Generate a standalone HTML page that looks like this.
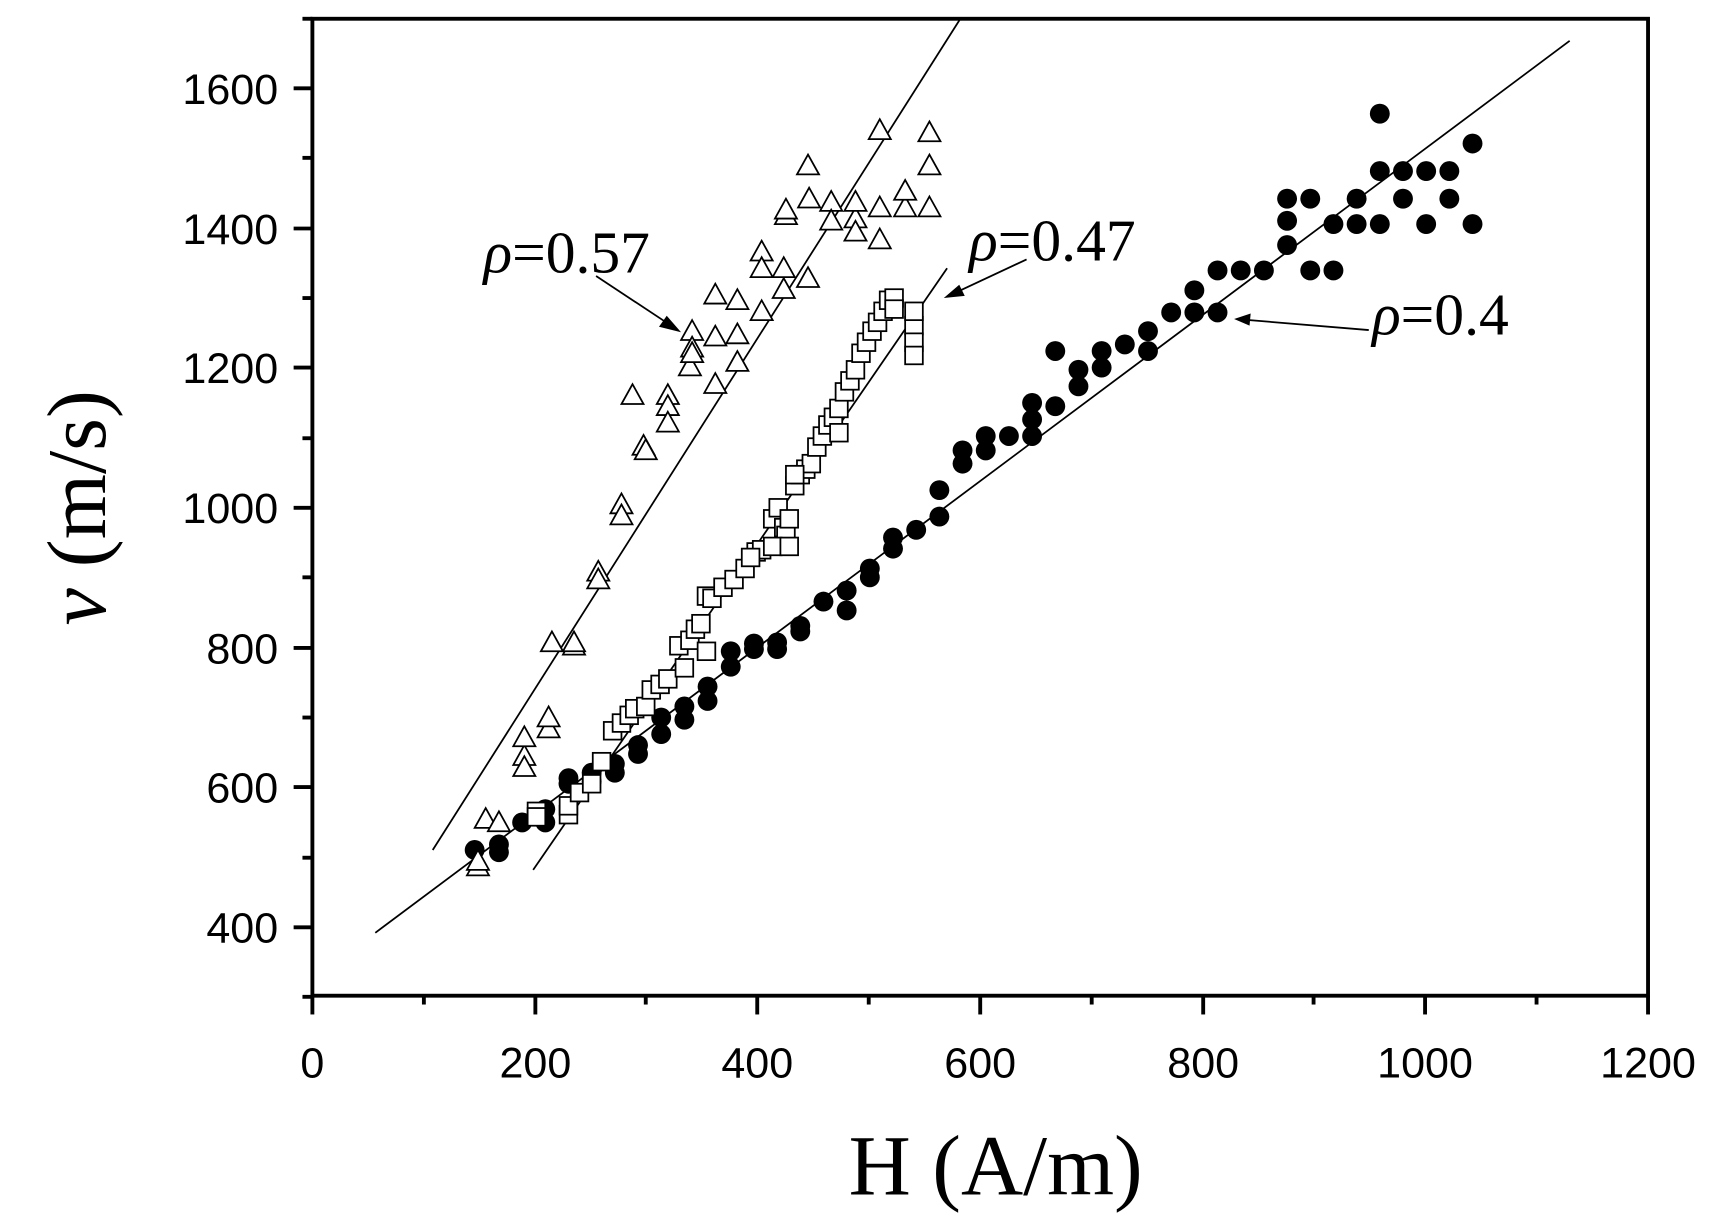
<!DOCTYPE html>
<html><head><meta charset="utf-8"><style>html,body{margin:0;padding:0;background:#fff}svg{display:block}</style></head>
<body>
<svg width="1722" height="1222" viewBox="0 0 1560 1107" preserveAspectRatio="none" xmlns="http://www.w3.org/2000/svg">
<rect x="0" y="0" width="1560" height="1107" fill="#fff"/>
<g stroke="#000" stroke-width="3.5" fill="none">
<rect x="283" y="17" width="1210" height="885"/>
</g>
<g stroke="#000" stroke-width="3.5">
<line x1="266" y1="840" x2="283" y2="840"/><line x1="266" y1="713" x2="283" y2="713"/><line x1="266" y1="587" x2="283" y2="587"/><line x1="266" y1="460" x2="283" y2="460"/><line x1="266" y1="333" x2="283" y2="333"/><line x1="266" y1="207" x2="283" y2="207"/><line x1="266" y1="80" x2="283" y2="80"/>
<line x1="274" y1="903" x2="283" y2="903"/><line x1="274" y1="777" x2="283" y2="777"/><line x1="274" y1="650" x2="283" y2="650"/><line x1="274" y1="523" x2="283" y2="523"/><line x1="274" y1="397" x2="283" y2="397"/><line x1="274" y1="270" x2="283" y2="270"/><line x1="274" y1="143" x2="283" y2="143"/><line x1="274" y1="17" x2="283" y2="17"/>
<line x1="283" y1="902" x2="283" y2="919"/><line x1="485" y1="902" x2="485" y2="919"/><line x1="686" y1="902" x2="686" y2="919"/><line x1="888" y1="902" x2="888" y2="919"/><line x1="1090" y1="902" x2="1090" y2="919"/><line x1="1291" y1="902" x2="1291" y2="919"/><line x1="1493" y1="902" x2="1493" y2="919"/>
<line x1="384" y1="902" x2="384" y2="910"/><line x1="585" y1="902" x2="585" y2="910"/><line x1="787" y1="902" x2="787" y2="910"/><line x1="989" y1="902" x2="989" y2="910"/><line x1="1190" y1="902" x2="1190" y2="910"/><line x1="1392" y1="902" x2="1392" y2="910"/>
</g>
<g font-family="Liberation Sans, sans-serif" font-size="39" fill="#000" text-anchor="end">
<text x="252" y="854">400</text><text x="252" y="727">600</text><text x="252" y="601">800</text><text x="252" y="474">1000</text><text x="252" y="347">1200</text><text x="252" y="221">1400</text><text x="252" y="94">1600</text>
</g>
<g font-family="Liberation Sans, sans-serif" font-size="39" fill="#000" text-anchor="middle">
<text x="283" y="976">0</text><text x="485" y="976">200</text><text x="686" y="976">400</text><text x="888" y="976">600</text><text x="1090" y="976">800</text><text x="1291" y="976">1000</text><text x="1493" y="976">1200</text>
</g>
<text x="902" y="1082" font-family="Liberation Serif, serif" font-size="78" text-anchor="middle">H (A/m)</text>
<text transform="translate(95,460) rotate(-90)" font-family="Liberation Serif, serif" font-size="76" text-anchor="middle"><tspan font-style="italic">v</tspan> (m/s)</text>
<g stroke="#000" stroke-width="1.6">
<line x1="392" y1="770" x2="870" y2="17"/>
<line x1="483" y1="788" x2="858" y2="243"/>
<line x1="340" y1="845" x2="1422" y2="37"/>
<line x1="540" y1="250" x2="605" y2="293"/>
<line x1="930" y1="235" x2="868" y2="264"/>
<line x1="1240" y1="299" x2="1132" y2="290"/>
</g>
<g fill="#000">
<polygon points="617,301 597,296 604,286"/>
<polygon points="855,270 869,258 874,268"/>
<polygon points="1118,289 1133,284 1132,295"/>
</g>
<g font-family="Liberation Serif, serif" font-size="54" fill="#000">
<text x="438" y="247"><tspan font-style="italic">ρ</tspan>=0.57</text>
<text x="878" y="236"><tspan font-style="italic">ρ</tspan>=0.47</text>
<text x="1243" y="303"><tspan font-style="italic">ρ</tspan>=0.4</text>
</g>
<g fill="#000">
<circle cx="430" cy="770" r="9"/><circle cx="452" cy="772" r="9"/><circle cx="452" cy="765" r="9"/><circle cx="473" cy="745" r="9"/><circle cx="494" cy="745" r="9"/><circle cx="494" cy="733" r="9"/><circle cx="515" cy="710" r="9"/><circle cx="515" cy="705" r="9"/><circle cx="536" cy="708" r="9"/><circle cx="536" cy="700" r="9"/><circle cx="557" cy="700" r="9"/><circle cx="557" cy="692" r="9"/><circle cx="578" cy="683" r="9"/><circle cx="578" cy="675" r="9"/><circle cx="599" cy="665" r="9"/><circle cx="599" cy="650" r="9"/><circle cx="620" cy="652" r="9"/><circle cx="620" cy="640" r="9"/><circle cx="641" cy="635" r="9"/><circle cx="641" cy="622" r="9"/><circle cx="662" cy="604" r="9"/><circle cx="662" cy="590" r="9"/><circle cx="683" cy="583" r="9"/><circle cx="683" cy="588" r="9"/><circle cx="704" cy="588" r="9"/><circle cx="704" cy="582" r="9"/><circle cx="725" cy="572" r="9"/><circle cx="725" cy="567" r="9"/><circle cx="746" cy="545" r="9"/><circle cx="767" cy="535" r="9"/><circle cx="767" cy="553" r="9"/><circle cx="788" cy="523" r="9"/><circle cx="788" cy="515" r="9"/><circle cx="809" cy="497" r="9"/><circle cx="809" cy="487" r="9"/><circle cx="830" cy="480" r="9"/><circle cx="851" cy="468" r="9"/><circle cx="851" cy="444" r="9"/><circle cx="872" cy="408" r="9"/><circle cx="872" cy="420" r="9"/><circle cx="893" cy="395" r="9"/><circle cx="893" cy="408" r="9"/><circle cx="914" cy="395" r="9"/><circle cx="935" cy="395" r="9"/><circle cx="935" cy="380" r="9"/><circle cx="935" cy="365" r="9"/><circle cx="956" cy="368" r="9"/><circle cx="956" cy="318" r="9"/><circle cx="977" cy="350" r="9"/><circle cx="977" cy="335" r="9"/><circle cx="998" cy="333" r="9"/><circle cx="998" cy="318" r="9"/><circle cx="1019" cy="312" r="9"/><circle cx="1040" cy="300" r="9"/><circle cx="1040" cy="318" r="9"/><circle cx="1061" cy="283" r="9"/><circle cx="1082" cy="283" r="9"/><circle cx="1082" cy="263" r="9"/><circle cx="1103" cy="283" r="9"/><circle cx="1103" cy="245" r="9"/><circle cx="1124" cy="245" r="9"/><circle cx="1145" cy="245" r="9"/><circle cx="1166" cy="222" r="9"/><circle cx="1166" cy="200" r="9"/><circle cx="1166" cy="180" r="9"/><circle cx="1187" cy="245" r="9"/><circle cx="1187" cy="180" r="9"/><circle cx="1208" cy="245" r="9"/><circle cx="1208" cy="203" r="9"/><circle cx="1229" cy="203" r="9"/><circle cx="1229" cy="180" r="9"/><circle cx="1250" cy="155" r="9"/><circle cx="1250" cy="203" r="9"/><circle cx="1250" cy="103" r="9"/><circle cx="1271" cy="155" r="9"/><circle cx="1271" cy="180" r="9"/><circle cx="1292" cy="155" r="9"/><circle cx="1292" cy="203" r="9"/><circle cx="1313" cy="155" r="9"/><circle cx="1313" cy="180" r="9"/><circle cx="1334" cy="130" r="9"/><circle cx="1334" cy="203" r="9"/>
</g>
<g fill="#fff" stroke="#000" stroke-width="1.6">
<rect x="478" y="727" width="16" height="16"/><rect x="478" y="732" width="16" height="16"/><rect x="507" y="730" width="16" height="16"/><rect x="507" y="722" width="16" height="16"/><rect x="517" y="710" width="16" height="16"/><rect x="528" y="702" width="16" height="16"/><rect x="537" y="682" width="16" height="16"/><rect x="547" y="654" width="16" height="16"/><rect x="555" y="647" width="16" height="16"/><rect x="562" y="640" width="16" height="16"/><rect x="567" y="634" width="16" height="16"/><rect x="577" y="632" width="16" height="16"/><rect x="582" y="617" width="16" height="16"/><rect x="590" y="612" width="16" height="16"/><rect x="597" y="607" width="16" height="16"/><rect x="607" y="577" width="16" height="16"/><rect x="617" y="572" width="16" height="16"/><rect x="622" y="562" width="16" height="16"/><rect x="627" y="557" width="16" height="16"/><rect x="632" y="532" width="16" height="16"/><rect x="637" y="534" width="16" height="16"/><rect x="647" y="524" width="16" height="16"/><rect x="657" y="517" width="16" height="16"/><rect x="667" y="507" width="16" height="16"/><rect x="677" y="492" width="16" height="16"/><rect x="682" y="490" width="16" height="16"/><rect x="692" y="462" width="16" height="16"/><rect x="697" y="452" width="16" height="16"/><rect x="702" y="470" width="16" height="16"/><rect x="704" y="477" width="16" height="16"/><rect x="712" y="432" width="16" height="16"/><rect x="717" y="422" width="16" height="16"/><rect x="722" y="417" width="16" height="16"/><rect x="727" y="412" width="16" height="16"/><rect x="732" y="397" width="16" height="16"/><rect x="737" y="387" width="16" height="16"/><rect x="742" y="377" width="16" height="16"/><rect x="747" y="370" width="16" height="16"/><rect x="752" y="362" width="16" height="16"/><rect x="757" y="347" width="16" height="16"/><rect x="762" y="337" width="16" height="16"/><rect x="767" y="327" width="16" height="16"/><rect x="772" y="312" width="16" height="16"/><rect x="777" y="302" width="16" height="16"/><rect x="782" y="292" width="16" height="16"/><rect x="787" y="284" width="16" height="16"/><rect x="792" y="274" width="16" height="16"/><rect x="797" y="264" width="16" height="16"/><rect x="802" y="262" width="16" height="16"/><rect x="802" y="272" width="16" height="16"/><rect x="820" y="287" width="16" height="16"/><rect x="820" y="302" width="16" height="16"/><rect x="820" y="314" width="16" height="16"/><rect x="820" y="274" width="16" height="16"/><rect x="612" y="597" width="16" height="16"/><rect x="632" y="582" width="16" height="16"/><rect x="672" y="497" width="16" height="16"/><rect x="692" y="487" width="16" height="16"/><rect x="707" y="487" width="16" height="16"/><rect x="707" y="462" width="16" height="16"/><rect x="752" y="384" width="16" height="16"/><rect x="712" y="422" width="16" height="16"/>
</g>
<defs><path id="t" d="M0,-10 L10,8 L-10,8 Z" fill="#fff" stroke="#000" stroke-width="1.6"/></defs>
<g>
<use href="#t" x="433" y="785"/><use href="#t" x="433" y="780"/><use href="#t" x="440" y="742"/><use href="#t" x="452" y="745"/><use href="#t" x="475" y="685"/><use href="#t" x="475" y="695"/><use href="#t" x="475" y="668"/><use href="#t" x="497" y="660"/><use href="#t" x="497" y="650"/><use href="#t" x="500" y="582"/><use href="#t" x="520" y="585"/><use href="#t" x="520" y="582"/><use href="#t" x="542" y="518"/><use href="#t" x="542" y="525"/><use href="#t" x="563" y="457"/><use href="#t" x="563" y="467"/><use href="#t" x="583" y="404"/><use href="#t" x="585" y="408"/><use href="#t" x="573" y="358"/><use href="#t" x="605" y="358"/><use href="#t" x="605" y="368"/><use href="#t" x="605" y="383"/><use href="#t" x="625" y="332"/><use href="#t" x="627" y="300"/><use href="#t" x="627" y="315"/><use href="#t" x="627" y="320"/><use href="#t" x="648" y="348"/><use href="#t" x="648" y="305"/><use href="#t" x="648" y="267"/><use href="#t" x="668" y="303"/><use href="#t" x="668" y="328"/><use href="#t" x="668" y="272"/><use href="#t" x="690" y="282"/><use href="#t" x="690" y="228"/><use href="#t" x="690" y="243"/><use href="#t" x="710" y="262"/><use href="#t" x="710" y="243"/><use href="#t" x="712" y="195"/><use href="#t" x="712" y="190"/><use href="#t" x="732" y="252"/><use href="#t" x="732" y="150"/><use href="#t" x="733" y="180"/><use href="#t" x="753" y="183"/><use href="#t" x="753" y="200"/><use href="#t" x="775" y="198"/><use href="#t" x="775" y="183"/><use href="#t" x="775" y="210"/><use href="#t" x="797" y="118"/><use href="#t" x="797" y="188"/><use href="#t" x="797" y="217"/><use href="#t" x="820" y="188"/><use href="#t" x="820" y="173"/><use href="#t" x="842" y="120"/><use href="#t" x="842" y="150"/><use href="#t" x="842" y="188"/>
</g>
</svg>
</body></html>
